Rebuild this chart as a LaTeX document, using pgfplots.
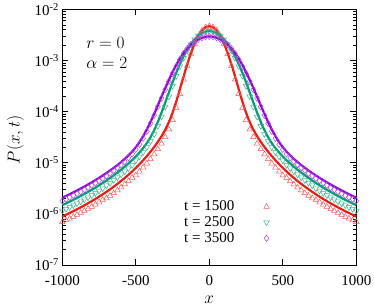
\documentclass[border=0pt]{standalone}
\usepackage{pgfplots}
\usepackage{pgfplotstable}
\pgfplotsset{compat=1.18}
\usepackage{fontspec}
\setmainfont{Liberation Serif}
\definecolor{cred}{RGB}{235,30,20}
\definecolor{cgreen}{RGB}{0,158,115}
\definecolor{cpurple}{RGB}{148,0,211}
\definecolor{mred}{RGB}{240,90,90}
\definecolor{mgreen}{RGB}{60,175,140}
\definecolor{mpurple}{RGB}{170,70,230}
\pgfplotstableread{
x rl gl pl rm gm pm
-1000 8.885e-7 1.481e-6 2.073e-6 6.93e-7 1.155e-6 1.804e-6
-975 9.61e-7 1.601e-6 2.242e-6 7.50e-7 1.249e-6 1.951e-6
-950 1.041e-6 1.735e-6 2.429e-6 8.12e-7 1.353e-6 2.113e-6
-925 1.131e-6 1.884e-6 2.638e-6 8.82e-7 1.470e-6 2.295e-6
-900 1.231e-6 2.051e-6 2.872e-6 9.60e-7 1.600e-6 2.499e-6
-875 1.343e-6 2.239e-6 3.1345e-6 1.048e-6 1.746e-6 2.727e-6
-850 1.470e-6 2.450e-6 3.430e-6 1.147e-6 1.911e-6 2.984e-6
-825 1.613e-6 2.689e-6 3.765e-6 1.258e-6 2.097e-6 3.276e-6
-800 1.776e-6 2.960e-6 4.144e-6 1.385e-6 2.309e-6 3.647e-6
-775 1.962e-6 3.270e-6 4.578e-6 1.530e-6 2.551e-6 4.029e-6
-750 2.175e-6 3.625e-6 5.074e-6 1.697e-6 2.828e-6 4.465e-6
-725 2.419e-6 4.031e-6 5.644e-6 1.887e-6 3.144e-6 4.97e-6
-700 2.702e-6 4.503e-6 6.305e-6 2.03e-6 3.60e-6 5.55e-6
-675 3.031e-6 5.052e-6 7.073e-6 2.27e-6 4.04e-6 6.22e-6
-650 3.417e-6 5.696e-6 7.974e-6 2.56e-6 4.56e-6 7.10e-6
-625 3.871e-6 6.452e-6 9.043e-6 2.90e-6 5.16e-6 8.05e-6
-600 4.411e-6 7.353e-6 1.036e-5 3.31e-6 5.88e-6 9.22e-6
-575 5.057e-6 8.428e-6 1.196e-5 3.79e-6 6.74e-6 1.064e-5
-550 5.835e-6 9.726e-6 1.399e-5 4.38e-6 7.78e-6 1.259e-5
-525 6.78e-6 1.131e-5 1.664e-5 5.09e-6 9.05e-6 1.498e-5
-500 7.95e-6 1.334e-5 2.027e-5 5.72e-6 1.107e-5 1.824e-5
-475 9.39e-6 1.592e-5 2.547e-5 6.76e-6 1.321e-5 2.292e-5
-450 1.122e-5 1.940e-5 3.318e-5 8.08e-6 1.610e-5 3.019e-5
-425 1.352e-5 2.430e-5 4.486e-5 9.73e-6 2.017e-5 4.127e-5
-400 1.651e-5 3.172e-5 6.29e-5 1.189e-5 2.633e-5 5.91e-5
-375 2.045e-5 4.356e-5 9.07e-5 1.472e-5 3.615e-5 8.53e-5
-350 2.574e-5 6.31e-5 1.333e-4 1.853e-5 5.24e-5 1.253e-4
-325 3.315e-5 9.59e-5 1.966e-4 2.387e-5 7.96e-5 1.848e-4
-300 4.43e-5 1.503e-4 2.887e-4 3.19e-5 1.247e-4 2.714e-4
-275 6.26e-5 2.383e-4 4.184e-4 4.51e-5 1.978e-4 3.933e-4
-250 9.57e-5 3.751e-4 5.941e-4 6.89e-5 3.188e-4 5.585e-4
-225 1.584e-4 5.763e-4 8.21e-4 1.188e-4 5.014e-4 7.72e-4
-200 2.770e-4 8.54e-4 1.097e-3 2.216e-4 7.69e-4 1.053e-3
-175 4.911e-4 1.210e-3 1.407e-3 4.273e-4 1.125e-3 1.379e-3
-150 8.51e-4 1.635e-3 1.731e-3 7.91e-4 1.570e-3 1.731e-3
-125 1.398e-3 2.107e-3 2.048e-3 1.356e-3 2.065e-3 2.048e-3
-100 2.141e-3 2.597e-3 2.343e-3 2.141e-3 2.597e-3 2.343e-3
-75 3.013e-3 3.063e-3 2.600e-3 3.013e-3 3.063e-3 2.600e-3
-50 3.861e-3 3.450e-3 2.803e-3 3.861e-3 3.450e-3 2.803e-3
-25 4.488e-3 3.708e-3 2.934e-3 4.488e-3 3.708e-3 2.934e-3
0 4.720e-3 3.799e-3 2.979e-3 4.720e-3 3.799e-3 2.979e-3
25 4.488e-3 3.708e-3 2.934e-3 4.488e-3 3.708e-3 2.934e-3
50 3.861e-3 3.450e-3 2.803e-3 3.861e-3 3.450e-3 2.803e-3
75 3.013e-3 3.063e-3 2.600e-3 3.013e-3 3.063e-3 2.600e-3
100 2.141e-3 2.597e-3 2.343e-3 2.141e-3 2.597e-3 2.343e-3
125 1.398e-3 2.107e-3 2.048e-3 1.356e-3 2.065e-3 2.048e-3
150 8.51e-4 1.635e-3 1.731e-3 7.91e-4 1.570e-3 1.731e-3
175 4.911e-4 1.210e-3 1.407e-3 4.273e-4 1.125e-3 1.379e-3
200 2.770e-4 8.54e-4 1.097e-3 2.216e-4 7.69e-4 1.053e-3
225 1.584e-4 5.763e-4 8.21e-4 1.188e-4 5.014e-4 7.72e-4
250 9.57e-5 3.751e-4 5.941e-4 6.89e-5 3.188e-4 5.585e-4
275 6.26e-5 2.383e-4 4.184e-4 4.51e-5 1.978e-4 3.933e-4
300 4.43e-5 1.503e-4 2.887e-4 3.19e-5 1.247e-4 2.714e-4
325 3.315e-5 9.59e-5 1.966e-4 2.387e-5 7.96e-5 1.848e-4
350 2.574e-5 6.31e-5 1.333e-4 1.853e-5 5.24e-5 1.253e-4
375 2.045e-5 4.356e-5 9.07e-5 1.472e-5 3.615e-5 8.53e-5
400 1.651e-5 3.172e-5 6.29e-5 1.189e-5 2.633e-5 5.91e-5
425 1.352e-5 2.430e-5 4.486e-5 9.73e-6 2.017e-5 4.127e-5
450 1.122e-5 1.940e-5 3.318e-5 8.08e-6 1.610e-5 3.019e-5
475 9.39e-6 1.592e-5 2.547e-5 6.76e-6 1.321e-5 2.292e-5
500 7.95e-6 1.334e-5 2.027e-5 5.72e-6 1.107e-5 1.824e-5
525 6.78e-6 1.131e-5 1.664e-5 5.09e-6 9.05e-6 1.498e-5
550 5.835e-6 9.726e-6 1.399e-5 4.38e-6 7.78e-6 1.259e-5
575 5.057e-6 8.428e-6 1.196e-5 3.79e-6 6.74e-6 1.064e-5
600 4.411e-6 7.353e-6 1.036e-5 3.31e-6 5.88e-6 9.22e-6
625 3.871e-6 6.452e-6 9.043e-6 2.90e-6 5.16e-6 8.05e-6
650 3.417e-6 5.696e-6 7.974e-6 2.56e-6 4.56e-6 7.10e-6
675 3.031e-6 5.052e-6 7.073e-6 2.27e-6 4.04e-6 6.22e-6
700 2.702e-6 4.503e-6 6.305e-6 2.03e-6 3.60e-6 5.55e-6
725 2.419e-6 4.031e-6 5.644e-6 1.887e-6 3.144e-6 4.97e-6
750 2.175e-6 3.625e-6 5.074e-6 1.697e-6 2.828e-6 4.465e-6
775 1.962e-6 3.270e-6 4.578e-6 1.530e-6 2.551e-6 4.029e-6
800 1.776e-6 2.960e-6 4.144e-6 1.385e-6 2.309e-6 3.647e-6
825 1.613e-6 2.689e-6 3.765e-6 1.258e-6 2.097e-6 3.276e-6
850 1.470e-6 2.450e-6 3.430e-6 1.147e-6 1.911e-6 2.984e-6
875 1.343e-6 2.239e-6 3.1345e-6 1.048e-6 1.746e-6 2.727e-6
900 1.231e-6 2.051e-6 2.872e-6 9.60e-7 1.600e-6 2.499e-6
925 1.131e-6 1.884e-6 2.638e-6 8.82e-7 1.470e-6 2.295e-6
950 1.041e-6 1.735e-6 2.429e-6 8.12e-7 1.353e-6 2.113e-6
975 9.61e-7 1.601e-6 2.242e-6 7.50e-7 1.249e-6 1.951e-6
1000 8.885e-7 1.481e-6 2.073e-6 6.93e-7 1.155e-6 1.804e-6
}\datatab
\begin{document}
\begin{tikzpicture}
\begin{axis}[
  name=ax,
  scale only axis,
  width=294pt, height=255.5pt,
  ymode=log,
  xmin=-1000, xmax=1000,
  ymin=1e-7, ymax=1e-2,
  xtick={-1000,-500,0,500,1000},
  xticklabels={-1000,-500,0,500,1000},
  ytick={1e-7,1e-6,1e-5,1e-4,1e-3,1e-2},
  yticklabels={10\textsuperscript{-7},10\textsuperscript{-6},10\textsuperscript{-5},10\textsuperscript{-4},10\textsuperscript{-3},10\textsuperscript{-2}},
  tick label style={font=\fontsize{15}{18}\selectfont},
  x tick label style={yshift=-7pt},
  major tick length=6pt, minor tick length=3.5pt,
  tick style={line width=0.7pt, black},
  axis line style={line width=0.9pt},
  xlabel={$x$}, ylabel={$P(x,t)$},
  every axis x label/.style={at={(axis description cs:0.5,-0.137)}, anchor=center, font=\fontsize{17}{20}\selectfont, inner sep=0pt},
  every axis y label/.style={at={(axis description cs:-0.16,0.49)}, anchor=center, rotate=90, font=\fontsize{17}{20}\selectfont},
  clip=false,
  legend plot pos=right,
  legend cell align=right,
  legend style={draw=none, fill=none, at={(axis description cs:0.715,0.265)}, anchor=north east,
    font=\fontsize{15}{18}\selectfont, column sep=28pt, row sep=1.3pt,
    nodes={inner sep=1.5pt}},
]
\addplot[only marks, mark=triangle, mark size=3.2pt, mred, mark options={line width=0.5pt}] table[x=x,y=rm]{\datatab};
\addlegendentry{t = 1500}
\addplot[only marks, mark=triangle, mark size=3.2pt, mgreen, mark options={line width=0.5pt, rotate=180}] table[x=x,y=gm]{\datatab};
\addlegendentry{t = 2500}
\addplot[only marks, mark=diamond, mark size=3.2pt, mpurple, mark options={line width=0.5pt}] table[x=x,y=pm]{\datatab};
\addlegendentry{t = 3500}
\addplot[cred, line width=2.2pt, smooth, no marks, forget plot] table[x=x,y=rl]{\datatab};
\addplot[cgreen, line width=2.2pt, smooth, no marks, forget plot] table[x=x,y=gl]{\datatab};
\addplot[cpurple, line width=2.2pt, smooth, no marks, forget plot] table[x=x,y=pl]{\datatab};
\node[anchor=west, font=\fontsize{19}{22}\selectfont] at (axis description cs:0.07,0.87) {$r=0$};
\node[anchor=west, font=\fontsize{19}{22}\selectfont] at (axis description cs:0.07,0.792) {$\alpha=2$};
\end{axis}
\pgfresetboundingbox
\path[use as bounding box] ([xshift=-62.3pt,yshift=-42pt]ax.south west) rectangle ([xshift=17.7pt,yshift=9.5pt]ax.north east);
\end{tikzpicture}
\end{document}
